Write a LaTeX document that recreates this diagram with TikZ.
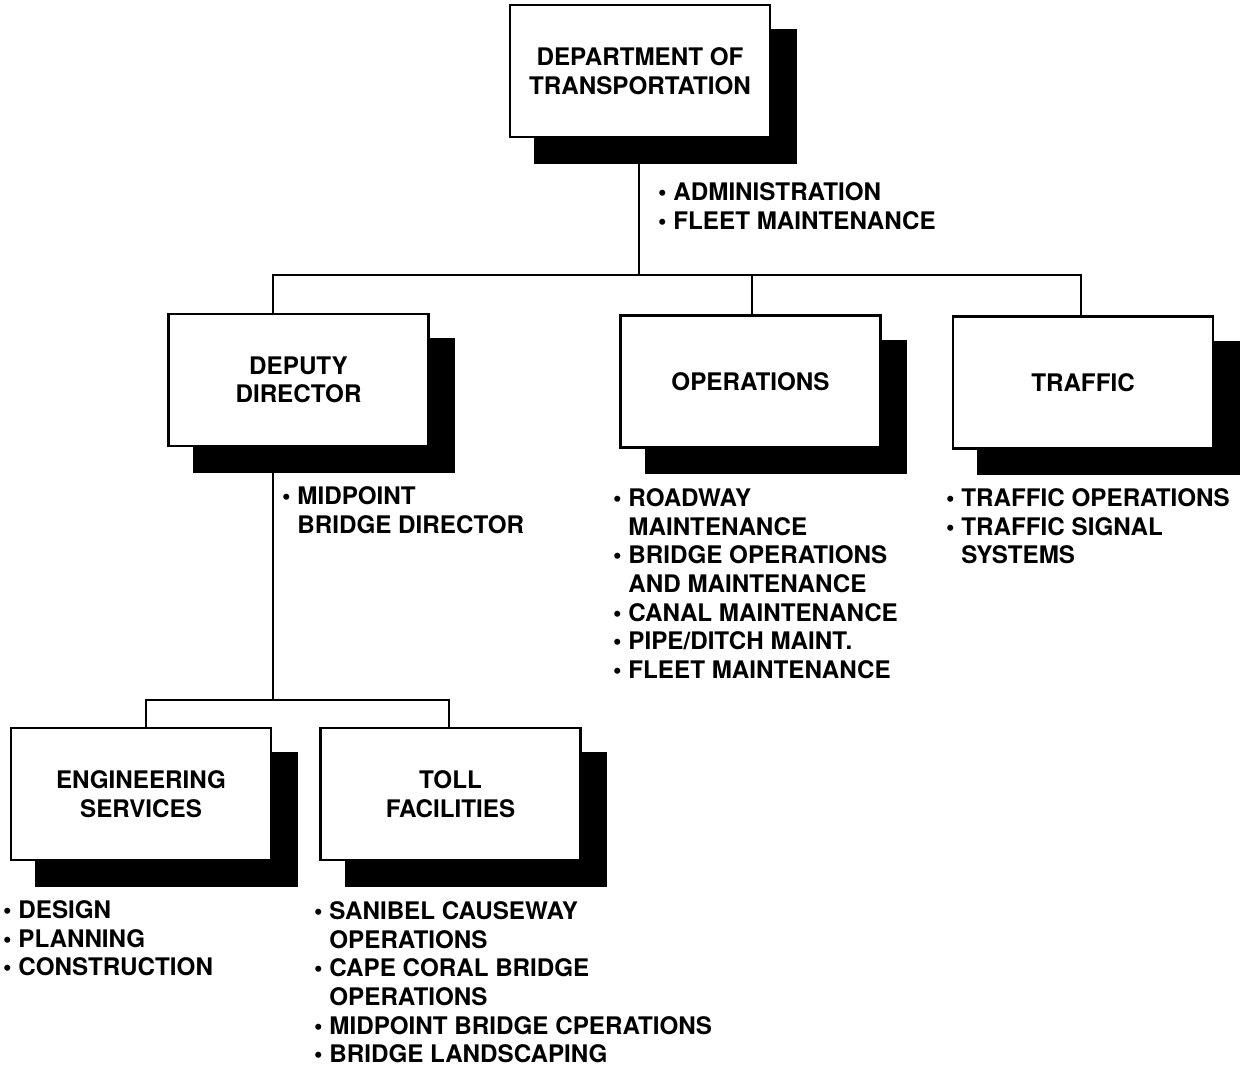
\documentclass[tikz,border=0pt]{standalone}
\usepackage{fontspec}
\setmainfont{TeX Gyre Heros}
\usetikzlibrary{shadows,backgrounds}

% bullet at the head of an item, and the matching indent for a wrapped line
\newcommand{\bulletmark}{•\ }
\newcommand{\bulletgap}{\hphantom{•\ }}

\begin{document}
\begin{tikzpicture}[x=1pt,y=-1pt,
  unit/.style={draw=black, line width=2.3pt, fill=white, rectangle,
    minimum width=260pt, minimum height=132pt, inner sep=0pt, align=center,
    font=\bfseries\fontsize{24.2}{28.5}\selectfont,
    general shadow={fill=black, draw=black, line width=2.3pt,
      shadow xshift=25.5pt, shadow yshift=-25.5pt}},
  duties/.style={anchor=north west, inner sep=0pt, align=left,
    font=\bfseries\fontsize{24.2}{28.7}\selectfont},
  link/.style={draw=black, line width=2.2pt}
]
\useasboundingbox (0,0) rectangle (1241,1066);

% organisational units
\node[unit] (dot)  at (640,71)     {DEPARTMENT OF\\TRANSPORTATION};
\node[unit] (dep)  at (298.5,380)  {DEPUTY\\DIRECTOR};
\node[unit] (ops)  at (750.5,381.5){OPERATIONS};
\node[unit] (trf)  at (1083,382.5) {TRAFFIC};
\node[unit] (eng)  at (141,794)    {ENGINEERING\\SERVICES};
\node[unit] (toll) at (450.5,794)  {TOLL\\FACILITIES};

% duties under each unit
\node[duties] (dutdot) at (658,182.3)
  {\bulletmark ADMINISTRATION\\\bulletmark FLEET MAINTENANCE};
\node[duties] (dutdep) at (282,486.3)
  {\bulletmark MIDPOINT\\\bulletgap BRIDGE DIRECTOR};
\node[duties] (dutops) at (613,488.3)
  {\bulletmark ROADWAY\\\bulletgap MAINTENANCE\\\bulletmark BRIDGE OPERATIONS\\\bulletgap AND MAINTENANCE\\\bulletmark CANAL MAINTENANCE\\\bulletmark PIPE/DITCH MAINT.\\\bulletmark FLEET MAINTENANCE};
\node[duties] (duttrf) at (946,488.3)
  {\bulletmark TRAFFIC OPERATIONS\\\bulletmark TRAFFIC SIGNAL\\\bulletgap SYSTEMS};
\node[duties] (duteng) at (3,900.3)
  {\bulletmark DESIGN\\\bulletmark PLANNING\\\bulletmark CONSTRUCTION};
\node[duties] (duttoll) at (314,901.3)
  {\bulletmark SANIBEL CAUSEWAY\\\bulletgap OPERATIONS\\\bulletmark CAPE CORAL BRIDGE\\\bulletgap OPERATIONS\\\bulletmark MIDPOINT BRIDGE CPERATIONS\\\bulletmark BRIDGE LANDSCAPING};

% junction points of the reporting lines
\coordinate (j0) at (639,275);
\coordinate (jd) at (273,275);
\coordinate (jo) at (752,275);
\coordinate (jt) at (1081,275);
\coordinate (k0) at (273,700);
\coordinate (ke) at (146,700);
\coordinate (kt) at (449,700);

\begin{scope}[on background layer]
  \fill[white] (0,0) rectangle (1241,1066);
  \draw[link] (dot.south -| j0) -- (j0);
  \draw[link] (dep.north -| jd) -- (jd) -- (jt) -- (trf.north -| jt);
  \draw[link] (jo) -- (ops.north -| jo);
  \draw[link] (dep.south -| k0) -- (k0);
  \draw[link] (eng.north -| ke) -- (ke) -- (kt) -- (toll.north -| kt);
\end{scope}
\end{tikzpicture}
\end{document}
